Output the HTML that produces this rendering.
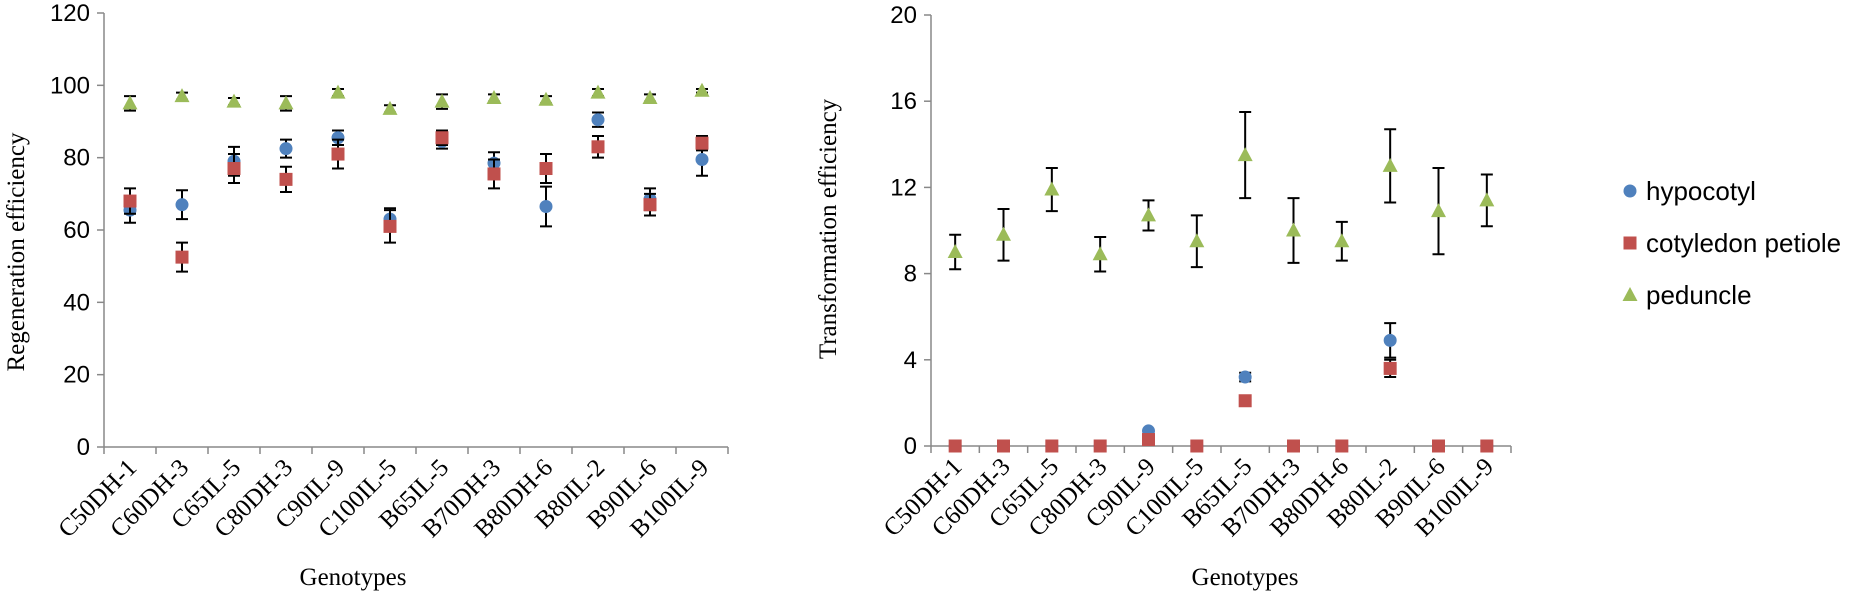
<!DOCTYPE html>
<html><head><meta charset="utf-8">
<style>
html,body{margin:0;padding:0;background:#fff;}
svg{display:block;}
.tick{font-family:"Liberation Sans",sans-serif;font-size:24px;fill:#000;}
.cat{font-family:"Liberation Serif",serif;font-size:25px;fill:#000;}
.title{font-family:"Liberation Serif",serif;font-size:25px;fill:#000;}
.leg{font-family:"Liberation Sans",sans-serif;font-size:26px;fill:#000;}
</style></head>
<body>
<svg id="chart" width="1856" height="592" xmlns="http://www.w3.org/2000/svg"></svg>
<script>
const categories=["C50DH-1","C60DH-3","C65IL-5","C80DH-3","C90IL-9","C100IL-5","B65IL-5","B70DH-3","B80DH-6","B80IL-2","B90IL-6","B100IL-9"];
// Regeneration efficiency (left)
const regHyp=[65.5,67,79,82.5,85.5,63,84.5,78.5,66.5,90.5,68.5,79.5];
const regHypErr=[3.5,4,4,2.5,2,3,2,3,5.5,2,3,4.5];
const regPet=[68,52.5,77,74,81,61,85.5,75.5,77,83,67,84];
const regPetErr=[3.5,4,4,3.5,4,4.5,2,4,4,3,3,2];
const regPed=[95,97,95.5,95,98,93.5,95.5,96.5,96,98,96.5,98.5];
const regPedErr=[2,1,1,2,1,1,2,1,1,1,1,0.5];
const regTicks=[0,20,40,60,80,100,120];
// Transformation efficiency (right)
const trHyp=[0,0,0,0,0.7,0,3.2,0,0,4.9,0,0];
const trHypErr=[0,0,0,0,0,0,0.2,0,0,0.8,0,0];
const trPet=[0,0,0,0,0.3,0,2.1,0,0,3.6,0,0];
const trPetErr=[0,0,0,0,0,0,0,0,0,0.4,0,0];
const trPed=[9,9.8,11.9,8.9,10.7,9.5,13.5,10,9.5,13,10.9,11.4];
const trPedErr=[0.8,1.2,1,0.8,0.7,1.2,2,1.5,0.9,1.7,2,1.2];
const trTicks=[0,4,8,12,16,20];
const seriesNames=["hypocotyl","cotyledon petiole","peduncle"];

const NS="http://www.w3.org/2000/svg";
const svg=document.getElementById('chart');
function mk(tag,attrs,parent){const e=document.createElementNS(NS,tag);for(const k in attrs)e.setAttribute(k,attrs[k]);(parent||svg).appendChild(e);return e;}
const COL={h:"#4F81BD",p:"#C0504D",g:"#9BBB59"};

function marker(g,type,x,y){
  let m;
  if(type==='h'){m=mk('circle',{cx:x,cy:y,r:6.5,fill:COL.h},g);}
  else if(type==='p'){m=mk('rect',{x:x-6.5,y:y-6.5,width:13,height:13,fill:COL.p},g);}
  else{m=mk('polygon',{points:`${x},${y-8} ${x+7.5},${y+6} ${x-7.5},${y+6}`,fill:COL.g},g);}
  return m;
}

function drawChart(cfg){
  const {x0,x1,yTop,yBot,max,ticks,series,titleText,titleX,titleY,genX,name}=cfg;
  const g=mk('g',{});
  
  
  const band=(x1-x0)/categories.length;
  const X=i=>x0+band*(i+0.5);
  const Y=v=>yBot-(v/max)*(yBot-yTop);
  const ya=mk('line',{x1:x0,y1:yTop,x2:x0,y2:yBot,stroke:"#888","stroke-width":1.5},g);
  
  
  ticks.forEach(t=>{
    mk('line',{x1:x0-7,y1:Y(t),x2:x0,y2:Y(t),stroke:"#888","stroke-width":1.5},g);
    const tx=mk('text',{x:x0-14,y:Y(t)+8,"text-anchor":"end",class:"tick"},g);
    tx.textContent=t;
    
    
  });
  const xa=mk('line',{x1:x0,y1:yBot,x2:x1,y2:yBot,stroke:"#888","stroke-width":1.5},g);
  
  
  for(let i=0;i<=categories.length;i++){
    mk('line',{x1:x0+band*i,y1:yBot,x2:x0+band*i,y2:yBot+7,stroke:"#888","stroke-width":1.5},g);
  }
  categories.forEach((c,i)=>{
    const tx=mk('text',{x:0,y:0,"text-anchor":"end",class:"cat",transform:`translate(${X(i)+8},${yBot+22}) rotate(-45)`},g);
    tx.textContent=c;
    
    
  });
  series.forEach(s=>{
    const sg=mk('g',{},g);
    
    
    s.vals.forEach((v,i)=>{
      const e=s.err[i],x=X(i);
      if(e>0){
        const eb=mk('path',{d:`M${x},${Y(v+e)}V${Y(v-e)}M${x-6},${Y(v+e)}H${x+6}M${x-6},${Y(v-e)}H${x+6}`,stroke:"#000","stroke-width":2,fill:"none"},sg);
        
        
      }
      const m=marker(sg,s.type,x,Y(v));
      
      
    });
  });
  const tt=mk('text',{x:0,y:0,"text-anchor":"middle",class:"title",transform:`translate(${titleX},${titleY}) rotate(-90)`},g);
  tt.textContent=titleText;
  
  
  const gt=mk('text',{x:genX,y:585,"text-anchor":"middle",class:"title"},g);
  gt.textContent="Genotypes";
  
  
}

drawChart({x0:104,x1:728,yTop:13,yBot:447,max:120,ticks:regTicks,titleText:"Regeneration efficiency",titleX:24,titleY:252,genX:353,name:"regeneration-chart",
  series:[{name:'peduncle',type:'g',vals:regPed,err:regPedErr},{name:'hypocotyl',type:'h',vals:regHyp,err:regHypErr},{name:'cotyledon-petiole',type:'p',vals:regPet,err:regPetErr}]});
drawChart({x0:931,x1:1511,yTop:15,yBot:446,max:20,ticks:trTicks,titleText:"Transformation efficiency",titleX:836,titleY:229,genX:1245,name:"transformation-chart",
  series:[{name:'peduncle',type:'g',vals:trPed,err:trPedErr},{name:'hypocotyl',type:'h',vals:trHyp,err:trHypErr},{name:'cotyledon-petiole',type:'p',vals:trPet,err:trPetErr}]});

const lg=mk('g',{});


const legTypes=['h','p','g'];
seriesNames.forEach((n,i)=>{
  const y=191+i*52;
  const eg=mk('g',{},lg);
  
  
  marker(eg,legTypes[i],1630,y);
  const t=mk('text',{x:1646,y:y+9,class:"leg"},eg);
  t.textContent=n;
});
</script>
</body></html>
